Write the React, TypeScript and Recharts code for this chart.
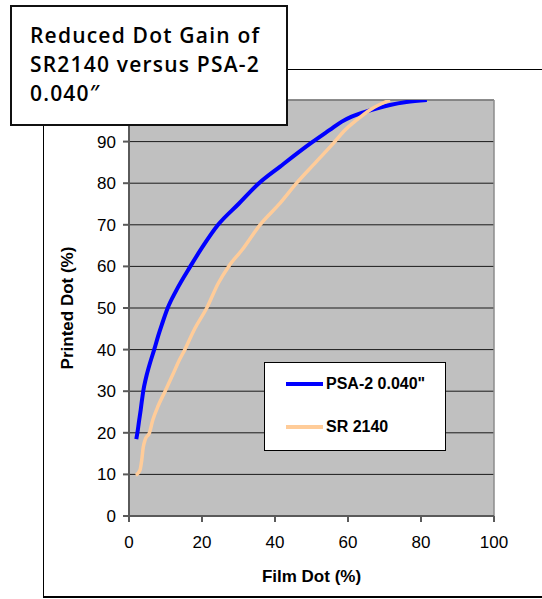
import React from "react";
import {
  LineChart,
  Line,
  XAxis,
  YAxis,
  CartesianGrid,
  Legend,
  ReferenceLine,
  Label,
} from "recharts";

// PSA-2 0.040" : film dot (%) vs printed dot (%)
const psaFilm = [2, 2.3, 2.7, 3.2, 3.5, 3.9, 4.6, 5.5, 6.9, 8, 9, 10.6, 13, 16.8, 20, 24.4, 30, 35.6, 41.4, 50.1, 55, 58.3, 61, 64.2, 71.5, 76, 81.6];
const psaPrinted = [18.5, 20, 22.5, 25.5, 27.5, 30, 33, 36, 40, 43.3, 46, 50, 54.3, 60, 64.5, 70, 75, 80, 84, 89.8, 92.8, 94.8, 96, 97, 98.8, 99.5, 100];

// SR 2140
const srFilm = [1.9, 3, 3.5, 3.9, 4.5, 5.6, 6.5, 8, 9.9, 12, 13.8, 15.3, 18, 21.3, 24.5, 27.3, 31, 35.9, 41.4, 45.9, 50.5, 56.4, 59, 62.4, 66, 71.5];
const srPrinted = [9.8, 11, 13.5, 16.5, 18.5, 20, 23, 26.5, 30, 34, 37.5, 40, 45, 50, 56, 60, 64, 70, 75.2, 80, 84.4, 90, 92.6, 95.2, 97.6, 100];

const xTicks = [0, 20, 40, 60, 80, 100];
const yTicks = [0, 10, 20, 30, 40, 50, 60, 70, 80, 90, 100];

const seriesNames = ['PSA-2 0.040"', "SR 2140"];
const seriesColors = ["#0000FF", "#FFCC99"];

const psaData = psaFilm.map((x, i) => ({ x, y: psaPrinted[i] }));
const srData = srFilm.map((x, i) => ({ x, y: srPrinted[i] }));

const FONT = "'Liberation Sans', Arial, sans-serif";

const renderLegend = (props: any) => {
  const payload = props.payload || [];
  return (
    <div
      style={{
        width: 180,
        height: 87,
        background: "#fff",
        border: "1px solid #000",
        boxSizing: "content-box",
        fontFamily: FONT,
        fontWeight: "bold",
        fontSize: 16,
        color: "#000",
        position: "relative",
      }}
    >
      {payload.map((p: any, i: number) => (
        <div
          key={i}
          style={{
            position: "absolute",
            left: 21,
            top: i === 0 ? 11 : 54,
            height: 20,
            display: "flex",
            alignItems: "center",
            whiteSpace: "nowrap",
          }}
        >
          <span
            style={{
              display: "inline-block",
              width: 37,
              height: i === 0 ? 4 : 3.5,
              background: p.color,
              marginRight: 3,
            }}
          />
          <span>{p.value}</span>
        </div>
      ))}
    </div>
  );
};

export default function App() {
  return (
    <div
      style={{
        position: "absolute",
        top: 0,
        left: 0,
        width: 542,
        height: 599,
        overflow: "hidden",
        background: "#fff",
      }}
    >
      {/* outer chart frame */}
      <div
        style={{
          position: "absolute",
          left: 43,
          top: 69,
          width: 600,
          height: 526,
          borderTop: "1.5px solid #000",
          borderLeft: "1.5px solid #000",
          borderBottom: "2px solid #000",
        }}
      />
      <div style={{ position: "absolute", left: 0, top: 0 }}>
        <LineChart
          width={542}
          height={599}
          margin={{ top: 100, right: 48, left: 0, bottom: 13 }}
          style={{ fontFamily: FONT }}
        >
          <CartesianGrid
            vertical={false}
            stroke="#1a1a1a"
            fill="#C0C0C0"
            fillOpacity={1}
          />
          <XAxis
            dataKey="x"
            type="number"
            domain={[0, 100]}
            ticks={xTicks}
            allowDataOverflow
            height={70}
            tickSize={6}
            tickMargin={14}
            stroke="#5a5a5a"
            strokeWidth={2}
            tick={{ fill: "#000", fontSize: 17, fontFamily: FONT }}
            interval={0}
          >
            <Label
              value="Film Dot (%)"
              position="insideBottom"
              offset={4}
              style={{ fontWeight: "bold", fontSize: 17, fill: "#000", fontFamily: FONT }}
            />
          </XAxis>
          <YAxis
            type="number"
            domain={[0, 100]}
            ticks={yTicks}
            allowDataOverflow
            width={129}
            tickSize={6}
            tickMargin={7}
            stroke="#5a5a5a"
            strokeWidth={2}
            tick={{ fill: "#000", fontSize: 17, fontFamily: FONT }}
            tickFormatter={(v: number) => (v === 100 ? "" : String(v))}
            interval={0}
          >
            <Label
              value="Printed Dot (%)"
              angle={-90}
              position="insideLeft"
              offset={67}
              style={{
                fontWeight: "bold",
                fontSize: 17,
                fill: "#000",
                textAnchor: "middle",
                fontFamily: FONT,
              }}
            />
          </YAxis>
          <ReferenceLine y={100} stroke="#8c8c8c" strokeWidth={1.5} />
          <ReferenceLine x={100} stroke="#8c8c8c" strokeWidth={1.5} />
          <Legend
            layout="vertical"
            align="center"
            verticalAlign="middle"
            wrapperStyle={{ left: 264, top: 362, width: 182, height: 89 }}
            content={renderLegend}
          />
          <Line
            data={psaData}
            dataKey="y"
            name={seriesNames[0]}
            type="monotone"
            stroke={seriesColors[0]}
            strokeWidth={4}
            dot={false}
            activeDot={false}
            isAnimationActive={false}
          />
          <Line
            data={srData}
            dataKey="y"
            name={seriesNames[1]}
            type="monotone"
            stroke={seriesColors[1]}
            strokeWidth={3.5}
            dot={false}
            activeDot={false}
            isAnimationActive={false}
          />
        </LineChart>
      </div>
      {/* title box */}
      <div
        style={{
          position: "absolute",
          left: 10,
          top: 5,
          width: 278,
          height: 121,
          border: "2px solid #111",
          background: "#fff",
          zIndex: 5,
          fontFamily: "'Open Sans', sans-serif",
          fontWeight: 600,
          fontSize: 21,
          letterSpacing: 1.2,
          lineHeight: "29px",
          color: "#000",
          paddingLeft: 18,
          paddingTop: 14,
          boxSizing: "border-box",
        }}
      >
        <div>Reduced Dot Gain of</div>
        <div>SR2140 versus PSA-2</div>
        <div>0.040″</div>
      </div>
    </div>
  );
}
